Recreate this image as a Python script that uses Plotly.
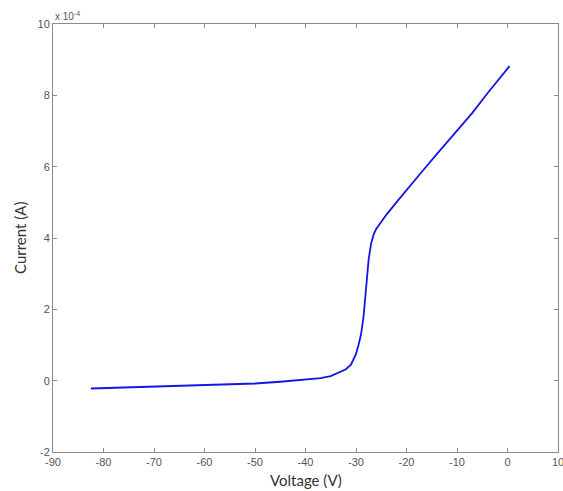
import plotly.graph_objects as go

# Data (current in units of 1e-4 A)
voltage = [-82.5, -80, -75, -70, -65, -60, -55, -50, -45, -40, -37, -35, -33, -32, -31,
           -30.5, -30, -29.5, -29, -28.5, -28, -27.5, -27, -26.5, -26, -25.5, -25, -24,
           -22, -20, -17, -14, -10, -7, -4, -2, 0, 0.4]
current_e4 = [-0.22, -0.21, -0.19, -0.17, -0.15, -0.13, -0.10, -0.08, -0.03, 0.02, 0.07, 0.13,
              0.25, 0.32, 0.45, 0.6, 0.75, 1.0, 1.3, 1.8, 2.7, 3.4, 3.85, 4.1, 4.25, 4.35,
              4.45, 4.65, 5.0, 5.35, 5.85, 6.35, 7.0, 7.5, 8.05, 8.4, 8.75, 8.82]

x_ticks = [-90, -80, -70, -60, -50, -40, -30, -20, -10, 0, 10]
y_ticks = [-2, 0, 2, 4, 6, 8, 10]

fig = go.Figure()
fig.add_trace(go.Scatter(x=voltage, y=current_e4, mode="lines",
                         line=dict(color="#1414e6", width=1.8), showlegend=False))

axis_common = dict(showline=True, linecolor="#8a8a8a", linewidth=1, mirror="ticks",
                   ticks="inside", ticklen=4, tickcolor="#8a8a8a", showgrid=False,
                   zeroline=False, automargin=False, ticklabeloverflow="allow",
                   tickfont=dict(family="Liberation Sans, Arial", size=11, color="#555555"))

title_font = dict(family="Lato, Open Sans", size=15, color="#333333")

fig.update_layout(
    width=563, height=491,
    margin=dict(l=53, r=5, t=24, b=39, autoexpand=False),
    paper_bgcolor="white", plot_bgcolor="white",
    xaxis=dict(range=[-90, 10], tickvals=x_ticks, ticktext=[str(v) for v in x_ticks],
               **axis_common),
    yaxis=dict(range=[-2, 10], tickvals=y_ticks, ticktext=[str(v) for v in y_ticks],
               **axis_common),
    annotations=[
        dict(text="x 10<sup>-4</sup>", xref="paper", yref="paper", x=0.0, y=1.0,
             xanchor="left", yanchor="bottom", showarrow=False,
             font=dict(family="Liberation Sans, Arial", size=10, color="#555555")),
        dict(text="Voltage (V)", xref="paper", yref="paper", x=0.5, y=0, yshift=-28,
             xanchor="center", yanchor="middle", showarrow=False, font=title_font),
        dict(text="Current (A)", xref="paper", yref="paper", x=0, y=0.5, xshift=-33,
             xanchor="center", yanchor="middle", textangle=-90, showarrow=False,
             font=title_font),
    ],
)

fig.write_html("out.html", config={"displayModeBar": False},
               post_script="document.body.style.margin='0';document.body.style.overflow='hidden';")
